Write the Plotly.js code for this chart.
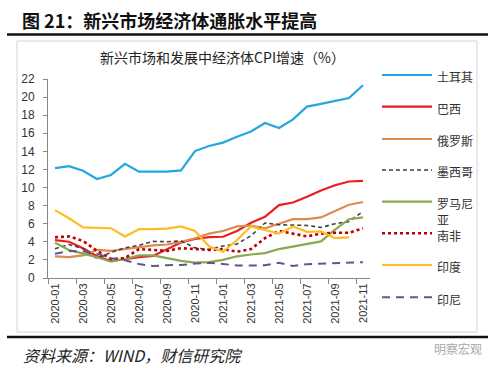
<!DOCTYPE html>
<html>
<head>
<meta charset="utf-8">
<script src="https://cdn.plot.ly/plotly-3.0.1.min.js"></script>
<style>html,body{margin:0;padding:0;background:#fff;}#chart{width:500px;height:368px;}</style>
</head>
<body>
<div id="chart"></div>
<script>
const months = ['2020-01','2020-02','2020-03','2020-04','2020-05','2020-06','2020-07','2020-08','2020-09','2020-10','2020-11','2020-12',
                '2021-01','2021-02','2021-03','2021-04','2021-05','2021-06','2021-07','2021-08','2021-09','2021-10','2021-11'];
const turkey   = [12.15,12.37,11.86,10.94,11.39,12.62,11.76,11.77,11.75,11.89,14.03,14.60,14.97,15.61,16.19,17.14,16.59,17.53,18.95,19.25,19.58,19.89,21.31];
const brazil   = [4.19,4.01,3.30,2.40,1.88,2.13,2.31,2.44,3.14,3.92,4.31,4.52,4.56,5.20,6.10,6.76,8.06,8.35,8.99,9.68,10.25,10.67,10.74];
const russia   = [2.4,2.3,2.5,3.1,3.0,3.2,3.4,3.6,3.7,4.0,4.4,4.9,5.2,5.7,5.8,5.5,6.0,6.5,6.5,6.7,7.4,8.1,8.4];
const mexico   = [3.24,3.70,3.25,2.15,2.84,3.33,3.62,4.05,4.01,4.09,3.33,3.15,3.54,3.76,4.67,6.08,5.89,5.88,5.81,5.59,6.00,6.24,7.37];
const romania  = [3.9,3.1,2.7,2.3,1.8,2.1,2.5,2.5,2.2,1.9,1.7,1.75,2.0,2.4,2.6,2.75,3.2,3.5,3.8,4.05,5.35,6.5,6.7];
const safrica  = [4.5,4.6,4.1,3.0,2.1,2.2,3.2,3.1,3.0,3.3,3.2,3.1,3.2,2.9,3.2,4.4,5.2,4.9,4.6,4.9,5.0,5.0,5.5];
const india    = [7.5,6.6,5.6,5.55,5.5,4.6,5.4,5.4,5.45,5.7,5.2,3.5,2.9,4.2,5.7,5.3,4.9,5.7,5.1,5.15,4.4,4.5,null];
const indonesia= [2.68,2.98,2.96,2.67,2.19,1.96,1.54,1.32,1.42,1.44,1.59,1.68,1.55,1.38,1.37,1.42,1.68,1.33,1.52,1.59,1.60,1.66,1.75];

const names = ['土耳其','巴西','俄罗斯','墨西哥','罗马尼亚','南非','印度','印尼'];
// legend labels, wrapped where the reference wraps
const legendText = ['土耳其','巴西','俄罗斯','墨西哥','罗马尼<br>亚','南非','印度','印尼'];
const series = [turkey, brazil, russia, mexico, romania, safrica, india, indonesia];
const styles = [
  {color:'#22A7DE', width:2.2},
  {color:'#EE1D1D', width:2.2},
  {color:'#E08A4E', width:2.2},
  {color:'#404040', width:1.6, dash:'4px,3px'},
  {color:'#8AA752', width:2.2},
  {color:'#C00000', width:2.6, dash:'dot'},
  {color:'#FDBE22', width:2.2},
  {color:'#5F5690', width:2, dash:'8px,6px'}
];

const traces = series.map((s,i)=>({
  type:'scatter', mode:'lines', x: months, y: s, name: names[i],
  line: styles[i], connectgaps:false, hoverinfo:'skip', showlegend:false
}));

// plot area in pixels: x 48..370, y 79..278
const PL=48, PW=322, PB=278, PH=199;
const px = v => (v-PL)/PW;
const py = v => (PB-v)/PH;

const cjk = '"Noto Sans CJK SC", "Noto Sans", sans-serif';

const shapes = [
  {type:'rect', xref:'paper', yref:'paper', x0:px(17), x1:px(477), y0:py(332), y1:py(41), line:{color:'#D3D3D3', width:1}},
  {type:'line', xref:'paper', yref:'paper', x0:px(7), x1:px(488), y0:py(34.5), y1:py(34.5), line:{color:'#111', width:2.5}},
  {type:'line', xref:'paper', yref:'paper', x0:px(7), x1:px(488), y0:py(337), y1:py(337), line:{color:'#111', width:2.5}}
];
const annotations = [
  {text:'<b>图 21：新兴市场经济体通胀水平提高</b>', xref:'paper', yref:'paper', x:px(20), y:py(20), xanchor:'left', yanchor:'middle',
   showarrow:false, font:{family:cjk, size:18, color:'#111'}},
  {text:'<i>资料来源：WIND，财信研究院</i>', xref:'paper', yref:'paper', x:px(21), y:py(355), xanchor:'left', yanchor:'middle',
   showarrow:false, font:{family:cjk, size:16, color:'#222'}},
  {text:'明察宏观', xref:'paper', yref:'paper', x:px(484), y:py(348), xanchor:'right', yanchor:'middle',
   showarrow:false, font:{family:cjk, size:12, color:'#A8A8A8'}}
];

// legend drawn beside the plot
const legY = [75, 106.7, 139, 170, 201.7, 233.3, 265, 297.3];
legendText.forEach((t,i)=>{
  const st = styles[i];
  shapes.push({type:'line', xref:'paper', yref:'paper', x0:px(382), x1:px(432), y0:py(legY[i]), y1:py(legY[i]),
               line:{color:st.color, width:st.width, dash:st.dash||'solid'}});
  annotations.push({text:t, xref:'paper', yref:'paper', x:px(436), y:py(legY[i]-7.8), xanchor:'left', yanchor:'top',
                    align:'left', showarrow:false, borderpad:0, font:{family:cjk, size:12, color:'#333'}});
});

const layout = {
  width:500, height:368,
  margin:{l:48, r:130, t:79, b:90},
  paper_bgcolor:'#fff', plot_bgcolor:'#fff',
  showlegend:false,
  title:{text:'新兴市场和发展中经济体CPI增速（%）', x:0.445, xanchor:'center', y:1-58/368, yanchor:'middle',
         font:{family:cjk, size:14, color:'#222'}},
  xaxis:{type:'category', categoryorder:'array', categoryarray:months, tickmode:'linear', tick0:0, dtick:2,
         tickson:'boundaries', ticks:'outside', ticklen:5, tickcolor:'#888', tickangle:-90,
         showline:true, linecolor:'#888', linewidth:1, showgrid:false, zeroline:false,
         range:[-0.5,22.5], tickfont:{family:'Liberation Sans, Arial, sans-serif', size:11, color:'#333'}},
  yaxis:{range:[0,22], dtick:2, tick0:0, ticks:'outside', ticklen:4, tickcolor:'#888',
         showline:true, linecolor:'#888', linewidth:1, showgrid:false, zeroline:false,
         ticklabelstandoff:6, tickfont:{family:'Liberation Sans, Arial, sans-serif', size:12, color:'#333'}},
  shapes: shapes,
  annotations: annotations
};
Plotly.newPlot('chart', traces, layout, {staticPlot:true, displayModeBar:false});
</script>
</body>
</html>
